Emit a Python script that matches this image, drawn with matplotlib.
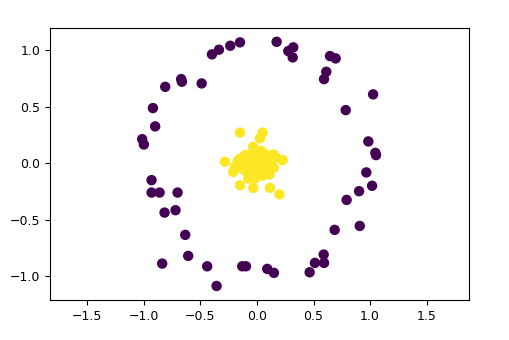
import numpy as np
import matplotlib.pyplot as plt

# outer ring (label 0)
outer_x = [-0.398, -0.336, -0.236, -0.150, -0.670, -0.664, -0.489, -0.811, -0.920, -0.900,
           -1.015, -1.000, -0.932, 0.174, 0.277, 0.321, 0.316, 0.646, 0.696, 0.613,
           0.593, 1.027, 0.785, 0.985, 1.047, 1.053, 0.967, 1.018, 0.903, 0.793,
           0.687, 0.909, 0.590, 0.513, 0.593, 0.466, 0.091, 0.150, -0.932, -0.861,
           -0.702, -0.720, -0.817, -0.634, -0.608, -0.838, -0.440, -0.357, -0.130, -0.097]
outer_y = [0.962, 1.003, 1.038, 1.068, 0.743, 0.720, 0.705, 0.675, 0.487, 0.325,
           0.212, 0.165, -0.150, 1.073, 0.991, 1.024, 0.935, 0.947, 0.926, 0.808,
           0.743, 0.608, 0.469, 0.192, 0.091, 0.071, -0.082, -0.200, -0.248, -0.325,
           -0.590, -0.555, -0.808, -0.882, -0.882, -0.965, -0.935, -0.970, -0.260, -0.260,
           -0.260, -0.416, -0.437, -0.634, -0.820, -0.888, -0.912, -1.086, -0.912, -0.912]

# inner cluster (label 1)
inner_x = [-0.150, 0.050, 0.027, -0.033, 0.040, 0.145, 0.227, -0.283, -0.106, -0.150,
           -0.195, -0.210, -0.091, -0.033, 0.056, 0.115, 0.086, 0.027, -0.077, -0.018,
           -0.150, -0.033, 0.115, 0.198, 0.000, -0.060, 0.080, 0.100, -0.120, 0.010,
           0.060, -0.050, 0.130, -0.170, 0.020, -0.010, 0.070, -0.090, 0.150, -0.130,
           0.030, -0.070, 0.110, 0.000, 0.050, -0.040, 0.090, -0.100, 0.170, -0.020]
inner_y = [0.270, 0.270, 0.220, 0.145, 0.106, 0.077, 0.027, 0.012, 0.071, 0.041,
           -0.033, -0.077, -0.077, 0.027, 0.041, -0.018, -0.077, -0.047, -0.135, -0.135,
           -0.195, -0.218, -0.218, -0.277, 0.060, 0.010, 0.010, 0.050, 0.000, -0.010,
           -0.030, -0.040, 0.030, 0.020, 0.090, 0.070, 0.080, 0.040, -0.040, -0.050,
           -0.090, -0.010, -0.100, -0.080, -0.110, 0.100, 0.060, -0.020, 0.050, 0.000]

X = np.array(outer_x + inner_x)
Y = np.array(outer_y + inner_y)
labels = np.array([0] * len(outer_x) + [1] * len(inner_x))

fig = plt.figure(figsize=(5.09, 3.40), dpi=100)
ax = fig.add_axes([50 / 509, 40 / 340, 419 / 509, 272 / 340])
ax.scatter(X, Y, c=labels, cmap='viridis', s=42)
ax.set_xlim(-1.83, 1.875)
ax.set_ylim(-1.21, 1.195)
ax.set_xticks([-1.5, -1.0, -0.5, 0.0, 0.5, 1.0, 1.5])
ax.set_yticks([-1.0, -0.5, 0.0, 0.5, 1.0])
ax.tick_params(labelsize=9)

fig.savefig('out.png', dpi=100)
